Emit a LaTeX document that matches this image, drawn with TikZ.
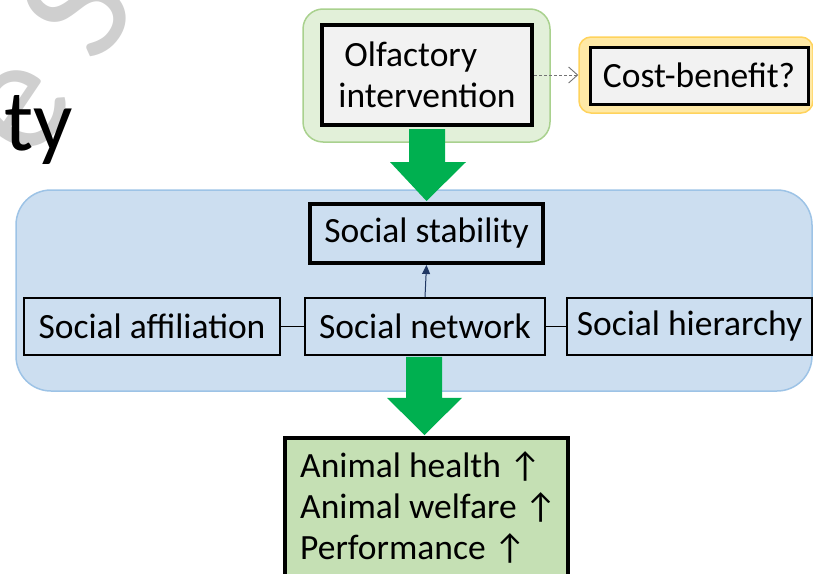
\documentclass[tikz,border=0pt]{standalone}
\usepackage{fontspec}
\setmainfont{Carlito}
\usetikzlibrary{arrows.meta,calc}
\definecolor{grnbg}{HTML}{E2F0D9}
\definecolor{grnbd}{HTML}{A9D18E}
\definecolor{ylbg}{HTML}{FFE9A6}
\definecolor{ylbd}{HTML}{FFD35C}
\definecolor{blubg}{HTML}{CCDEF0}
\definecolor{blubd}{HTML}{9DC3E6}
\definecolor{boxgray}{HTML}{F2F2F2}
\definecolor{outgrn}{HTML}{C5E0B4}
\definecolor{bigarrow}{HTML}{00B050}
\definecolor{navy}{HTML}{203864}
\tikzset{
  txt/.style={font=\fontsize{35.5}{41}\selectfont},
  thickbox/.style={draw=black, line width=4pt, inner sep=0pt, txt},
  thinbox/.style={draw=black, line width=1.8pt, inner sep=0pt, txt, minimum height=57pt},
  bgpanel/.style={line width=1.5pt, inner sep=0pt},
  link/.style={draw=black, line width=1pt},
}
\begin{document}
\begin{tikzpicture}[x=1pt,y=-1pt]
\useasboundingbox (0,0) rectangle (813,573);
\clip (0,0) rectangle (813,573);
% watermark and cut title
\node[text=black!19, rotate=56, inner sep=0pt, anchor=base west, font=\fontsize{164}{164}\selectfont] (wm) at (32,166) {e S};
\node[anchor=base east, inner sep=0pt, font=\fontsize{87}{87}\selectfont] (ty) at (73,150) {ty};
% top panels
\node[bgpanel, draw=grnbd, fill=grnbg, rounded corners=20pt, minimum width=247pt, minimum height=133pt] (gbg) at (426.5,75.5) {};
\node[thickbox, fill=boxgray, minimum width=210pt, minimum height=100pt, align=left] (olf) at (427,75) {\hspace{6pt}Olfactory\\intervention};
\node[bgpanel, draw=ylbd, fill=ylbg, rounded corners=12pt, minimum width=234pt, minimum height=76pt] (ybg) at (696,75) {};
\node[thickbox, line width=3pt, fill=boxgray, minimum width=218pt, minimum height=57pt] (cost) at (699,75.5) {Cost-benefit?};
\draw[dashed, dash pattern=on 3pt off 2pt, draw=black!55, line width=0.9pt, -{Straight Barb[length=9pt,width=16pt,line width=0.9pt]}] (olf.east) -- (ybg.west);
% blue panel
\node[bgpanel, draw=blubd, fill=blubg, rounded corners=35pt, minimum width=796pt, minimum height=201pt] (bbg) at (414,290.5) {};
\node[thickbox, minimum width=233pt, minimum height=59pt] (stab) at (426.5,233.5) {Social stability};
\node[thinbox, minimum width=240pt] (net) at (425,326.5) {Social network};
\node[thinbox, minimum width=256pt] (aff) at (152,326.5) {Social affiliation};
\node[thinbox, minimum width=245pt] (hier) at (689.5,326.5) {Social hierarchy};
\draw[link] (aff.east) -- (net.west);
\draw[link] (net.east) -- (hier.west);
\draw[draw=navy, line width=1pt, -{Triangle[length=9pt,width=8pt]}] (net.north) -- (stab.south);
% outcome box
\node[thickbox, fill=outgrn, minimum width=283pt, minimum height=150pt, anchor=north] (out) at (426.5,436) {};
\node[txt, inner sep=0pt, anchor=north west, align=left] (outtxt) at (300,451) {Animal health ↑\\Animal welfare ↑\\Performance ↑};
% big green arrows
\fill[bigarrow] ($(olf.south)+(-18,2)$) -- ($(olf.south)+(18,2)$) -- ($(olf.south)+(18,35)$) -- ($(olf.south)+(39,35)$) -- ($(stab.north)+(0,-1)$) -- ($(olf.south)+(-37,35)$) -- ($(olf.south)+(-18,35)$) -- cycle;
\fill[bigarrow] ($(net.south)+(-19,1)$) -- ($(net.south)+(17,1)$) -- ($(net.south)+(17,42)$) -- ($(net.south)+(37,42)$) -- ($(out.north)+(-2,-1)$) -- ($(net.south)+(-38,42)$) -- ($(net.south)+(-19,42)$) -- cycle;
\end{tikzpicture}
\end{document}
